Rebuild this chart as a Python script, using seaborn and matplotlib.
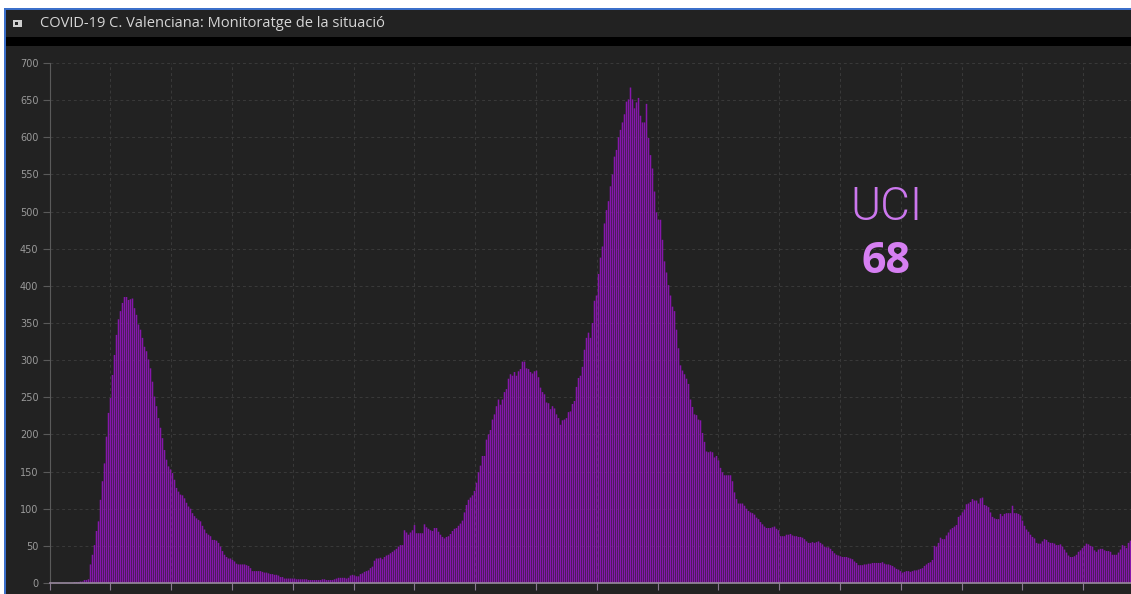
import numpy as np
import pandas as pd
import matplotlib
matplotlib.use("Agg")
import matplotlib.pyplot as plt
from matplotlib.patches import Rectangle
import seaborn as sns

# Pacients en UCI per dia (lectura aproximada del gràfic)
uci_inici = [0, 0, 0, 0, 0, 0, 0, 0, 0, 0, 0, 0,
             1, 1, 1, 2, 2, 4, 4, 5]

uci_onada1 = [25, 38, 51, 70, 83, 112, 137, 161, 197, 229,
              249, 280, 307, 334, 355, 366, 377, 385, 385, 381,
              382, 383, 370, 361, 348, 341, 330, 318, 312, 301,
              289, 271, 251, 238, 222, 209, 195, 179, 166, 157,
              153, 148, 139, 128, 123, 119, 118, 114, 108, 103,
              100, 94, 90, 87, 85, 83, 77, 72, 67, 65,
              63, 58, 58, 57, 54, 49, 43, 38, 35, 33,
              33, 31, 29, 26, 25, 25, 25, 25, 24, 23,
              20, 16, 16, 16, 16, 16, 15, 14, 14, 13]

uci_estiu = [12, 12, 11, 11, 10, 8, 8, 6, 6, 6,
             6, 6, 6, 5, 5, 5, 5, 5, 5, 4,
             4, 4, 4, 4, 4, 4, 5, 5, 4, 4,
             4, 4, 5, 6, 7, 7, 7, 7, 6, 7,
             10, 11, 10, 9, 9, 12, 13, 15, 16, 17,
             20, 22, 30, 33, 33, 34, 32, 35, 37, 38,
             40, 42, 44, 46, 49, 51, 51, 71, 68, 65,
             68, 71, 78, 67, 67, 67, 67, 79, 75, 73,
             71, 70, 74, 74, 69, 65, 62, 60, 62, 63,
             66, 70, 73, 74, 77, 80, 84, 95, 105, 112,
             115, 118, 124, 135, 149]

uci_onades23 = [158, 171, 171, 193, 200, 206, 220, 227, 238, 247,
                240, 247, 257, 261, 275, 281, 279, 284, 279, 285,
                288, 298, 298, 289, 288, 284, 282, 285, 286, 277,
                263, 257, 254, 243, 242, 234, 238, 235, 227, 222,
                213, 219, 220, 222, 230, 231, 241, 245, 264, 276,
                279, 291, 314, 330, 337, 330, 350, 380, 387, 416,
                438, 453, 484, 502, 514, 534, 550, 574, 583, 600,
                610, 620, 631, 648, 651, 667, 651, 639, 647, 653,
                629, 620, 620, 645, 599, 576, 558, 527, 499, 489,
                489, 462, 433, 418, 401, 387, 372, 366, 341, 316,
                293, 286, 281, 275, 268, 247, 237, 227, 226, 220,
                219, 202, 190, 177, 176]

uci_baixada = [177, 176, 169, 171, 165, 155, 149, 145, 145, 145,
               145, 137, 122, 113, 107, 107, 107, 104, 100, 97,
               95, 94, 92, 88, 86, 82, 79, 76, 74, 74,
               74, 75, 76, 73, 71, 63, 63, 63, 65, 65,
               66, 64, 63, 63, 62, 62, 61, 59, 56, 54,
               54, 55, 54, 55, 56, 54, 52, 49, 48, 48,
               46, 43, 40, 38, 37, 36, 35, 35, 35, 34,
               33, 32, 29, 27, 24, 24, 24, 25, 25, 26,
               26, 27, 27, 27, 27, 27, 28, 26, 25, 25,
               24, 23, 21, 19, 18, 16, 14, 15, 16, 16,
               15, 16, 17, 17, 18, 19, 20, 23, 25, 27]

uci_onada5 = [28, 31, 50, 49, 54, 61, 59, 59, 64, 68,
              72, 74, 76, 78, 89, 91, 95, 99, 106, 107,
              109, 113, 111, 111, 107, 114, 115, 105, 104, 102,
              95, 89, 87, 86, 86, 93, 90, 93, 94, 94,
              94, 104, 94, 94, 93, 91, 84, 77, 72, 69,
              65, 62, 60, 54, 53, 53, 56, 59, 58, 55,
              54, 54, 53, 51, 51, 52, 49, 45, 41, 37,
              35, 35, 36, 38, 42, 44, 47, 50, 53, 52,
              50, 49, 44, 42, 45, 46, 46, 44, 43, 43,
              42, 38, 38, 38, 41, 45, 51, 50, 47, 54,
              57]

y_ticks = [0, 50, 100, 150, 200, 250, 300, 350, 400, 450, 500, 550, 600, 650, 700]
titol = "COVID-19 C. Valenciana: Monitoratge de la situació"
uci_actual = "68"

uci = uci_inici + uci_onada1 + uci_estiu + uci_onades23 + uci_baixada + uci_onada5
df = pd.DataFrame({"dia": np.arange(len(uci)), "uci": uci})

W, H = 1131, 594
fig = plt.figure(figsize=(W / 100, H / 100), dpi=100)
fig.patch.set_facecolor("white")


def rect(x0, y0, x1, y1, color):
    # rectangle en píxels (origen a dalt a l'esquerra)
    fig.add_artist(Rectangle((x0 / W, 1 - y1 / H), (x1 - x0) / W, (y1 - y0) / H,
                             transform=fig.transFigure, facecolor=color,
                             edgecolor="none", zorder=-5))


rect(4, 8, W, H, "#3b6fc9")      # vora blava
rect(6, 10, W, H, "#222222")     # panell
rect(6, 37, W, 46, "#000000")    # franja negra sota el títol
rect(13, 20, 22, 27, "#cfcfcf")  # icona
rect(15, 22, 18, 25, "#222222")

fig.text(40 / W, 1 - 23.5 / H, titol, color="#d6d6d6", fontsize=10.5,
         family=["Open Sans", "DejaVu Sans"], va="center", ha="left")

# 2 píxels exactes per dia
ax = fig.add_axes([49.5 / W, 1 - 583 / H, 2 * len(uci) / W, (583 - 63) / H])
ax.set_facecolor("#222222")

sns.barplot(data=df, x="dia", y="uci", color="#8617ab", saturation=1,
            width=0.75, errorbar=None, linewidth=0, ax=ax)
for p in ax.patches:
    p.set_snap(False)

ax.set_ylim(0, 700)
ax.set_xlim(-0.5, len(uci) - 0.5)
ax.set_yticks(y_ticks)
ax.set_yticklabels([str(v) for v in y_ticks])
ax.set_xticks(np.arange(-0.5, len(uci), 30.4))
ax.set_xticklabels([])
ax.set_xlabel("")
ax.set_ylabel("")

ax.grid(True, color="#3a3a3a", linestyle=(0, (3, 3)), linewidth=0.7)
ax.set_axisbelow(True)
ax.tick_params(axis="y", colors="#5a5a5a", labelcolor="#9a9a9a", labelsize=7,
               length=5, width=0.8, pad=3)
ax.tick_params(axis="x", colors="#8a7a90", length=5, width=0.8)
for s in ["top", "right"]:
    ax.spines[s].set_visible(False)
ax.spines["left"].set_color("#5a5a5a")
ax.spines["left"].set_linewidth(0.8)
ax.spines["bottom"].set_color("#9a8aa0")
ax.spines["bottom"].set_linewidth(1.2)

fig.text(886 / W, 1 - 207 / H, "UCI", color="#cc77ee", fontsize=33,
         family=["Roboto", "DejaVu Sans"], fontweight=300, ha="center", va="center")
fig.text(886 / W, 1 - 261 / H, uci_actual, color="#d67ff2", fontsize=31,
         family=["Open Sans", "DejaVu Sans"], fontweight="bold", ha="center", va="center")

fig.savefig("out.png", dpi=100, facecolor=fig.get_facecolor())
